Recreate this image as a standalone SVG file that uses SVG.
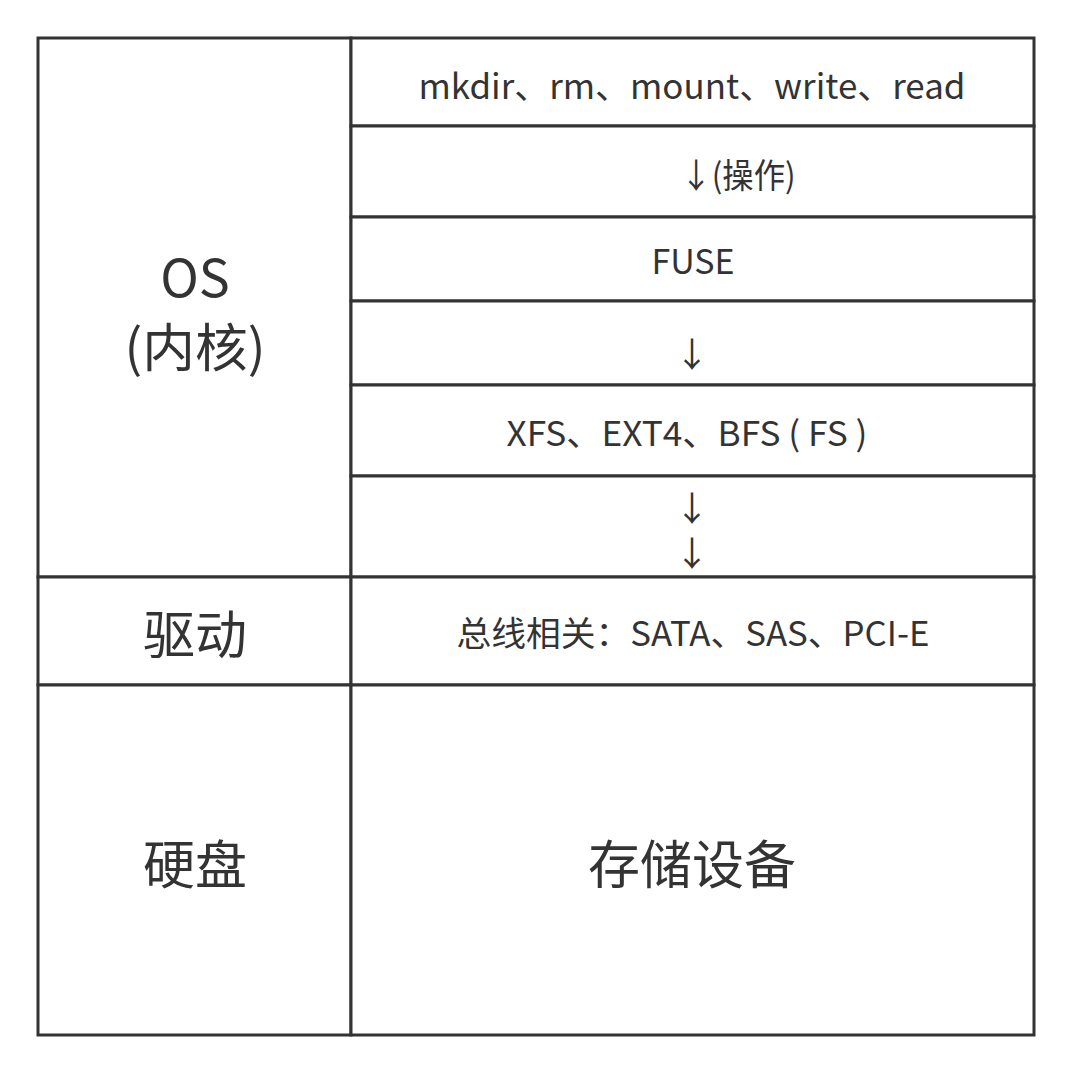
<svg xmlns="http://www.w3.org/2000/svg" width="1072" height="1074" viewBox="0 0 1072 1074">
<style>
.box{fill:#fff;stroke:#333;stroke-width:3}
.t{font-family:"Noto Sans CJK SC","Noto Sans",sans-serif;fill:#333;text-anchor:middle}
.s{font-size:34px}
.l{font-size:52px}
</style>
<rect width="1072" height="1074" fill="#fff"/>
<g id="os"><rect class="box" x="38" y="38" width="313" height="539"/><text class="t l" x="195" y="297">OS</text><text class="t l" x="195" y="367" textLength="141" lengthAdjust="spacingAndGlyphs">(内核)</text></g>
<g id="driver"><rect class="box" x="38" y="577" width="313" height="108"/><text class="t l" x="195" y="654">驱动</text></g>
<g id="disk"><rect class="box" x="38" y="685" width="313" height="350"/><text class="t l" x="195" y="884">硬盘</text></g>
<g id="ops"><rect class="box" x="351" y="38" width="683" height="88"/><text class="t s" x="692" y="99" textLength="547" lengthAdjust="spacingAndGlyphs">mkdir、rm、mount、write、read</text></g>
<g id="op-arrow"><rect class="box" x="351" y="126" width="683" height="91"/><text class="t s" x="738" y="188" textLength="115" lengthAdjust="spacingAndGlyphs">↓(操作)</text></g>
<g id="fuse"><rect class="box" x="351" y="217" width="683" height="84"/><text class="t s" x="693" y="274">FUSE</text></g>
<g id="arrow1"><rect class="box" x="351" y="301" width="683" height="84"/><text class="t s" x="692" y="367">↓</text></g>
<g id="fs"><rect class="box" x="351" y="385" width="683" height="91"/><text class="t s" x="687" y="446" textLength="361" lengthAdjust="spacingAndGlyphs">XFS、EXT4、BFS ( FS )</text></g>
<g id="arrow2"><rect class="box" x="351" y="476" width="683" height="101"/><text class="t s" x="692" y="521">↓</text><text class="t s" x="692" y="566">↓</text></g>
<g id="bus"><rect class="box" x="351" y="577" width="683" height="108"/><text class="t s" x="693" y="646" textLength="473" lengthAdjust="spacingAndGlyphs">总线相关：SATA、SAS、PCI-E</text></g>
<g id="storage"><rect class="box" x="351" y="685" width="683" height="350"/><text class="t l" x="692" y="884">存储设备</text></g>
<g id="connectors"></g>
</svg>
